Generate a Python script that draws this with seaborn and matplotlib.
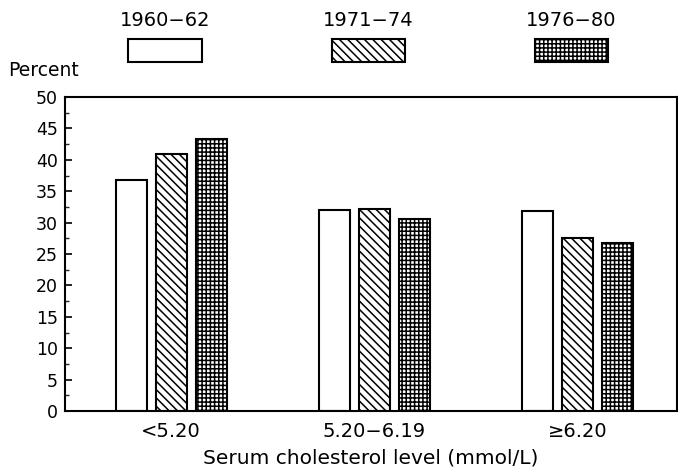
import pandas as pd
import seaborn as sns
import matplotlib.pyplot as plt
from matplotlib.patches import Rectangle
from matplotlib.ticker import MultipleLocator
import matplotlib.transforms as mtransforms

# data
levels = ["<5.20", "5.20\u22126.19", "\u22656.20"]
periods = ["1960\u221262", "1971\u221274", "1976\u221280"]
pct_1960 = [36.8, 32.0, 31.9]
pct_1971 = [40.9, 32.1, 27.6]
pct_1976 = [43.3, 30.5, 26.7]
hatches = ["", "\\\\\\\\", "++++"]

rows = []
for period, vals in zip(periods, [pct_1960, pct_1971, pct_1976]):
    for lev, v in zip(levels, vals):
        rows.append({"level": lev, "period": period, "pct": v})
df = pd.DataFrame(rows)

sns.set_style("white")
plt.rcParams["font.family"] = ["DejaVu Sans"]
plt.rcParams["hatch.linewidth"] = 1.1
plt.rcParams["text.color"] = "black"

fig = plt.figure(figsize=(6.78, 4.70), dpi=100)
ax = fig.add_axes([0.096, 0.1255, 0.9025, 0.668])

sns.barplot(data=df, x="level", y="pct", hue="period", order=levels,
            hue_order=periods, palette=["white"] * 3, edgecolor="black",
            linewidth=1.5, width=0.59, gap=0.22, legend=False, ax=ax)

# hatch each bar according to its period
for cont, h in zip(ax.containers, hatches):
    for bar in cont:
        bar.set_hatch(h)

ax.set_xlim(-0.522, 2.49)
ax.set_ylim(0, 50)
ax.yaxis.set_major_locator(MultipleLocator(5))
ax.yaxis.set_minor_locator(MultipleLocator(2.5))
ax.tick_params(axis="y", which="major", direction="in", length=5, width=1.2,
               left=True, labelsize=12.5, pad=5, colors="black")
ax.tick_params(axis="y", which="minor", direction="in", length=3, width=1.0, left=True)
ax.tick_params(axis="x", length=0, labelsize=14, pad=8, colors="black")
ax.set_ylabel("")
ax.set_xlabel("Serum cholesterol level (mmol/L)", fontsize=14.5, labelpad=5, color="black")
for s in ax.spines.values():
    s.set_visible(True)
    s.set_color("black")
    s.set_linewidth(1.5)

fig.text(0.012, 1 - 70 / 470, "Percent", fontsize=13.5, va="center", ha="left")

# legend: label above a swatch, placed over each group
trans = mtransforms.blended_transform_factory(ax.transData, ax.transAxes)
for i, (period, h) in enumerate(zip(periods, hatches)):
    cx = i - 0.03
    ax.add_patch(Rectangle((cx - 0.18, 1.111), 0.36, 0.073, transform=trans,
                           facecolor="white", edgecolor="black", linewidth=1.5,
                           hatch=h, clip_on=False))
    ax.text(cx, 1.245, period, transform=trans, ha="center", va="center", fontsize=14)

fig.savefig("out.png", dpi=100)
